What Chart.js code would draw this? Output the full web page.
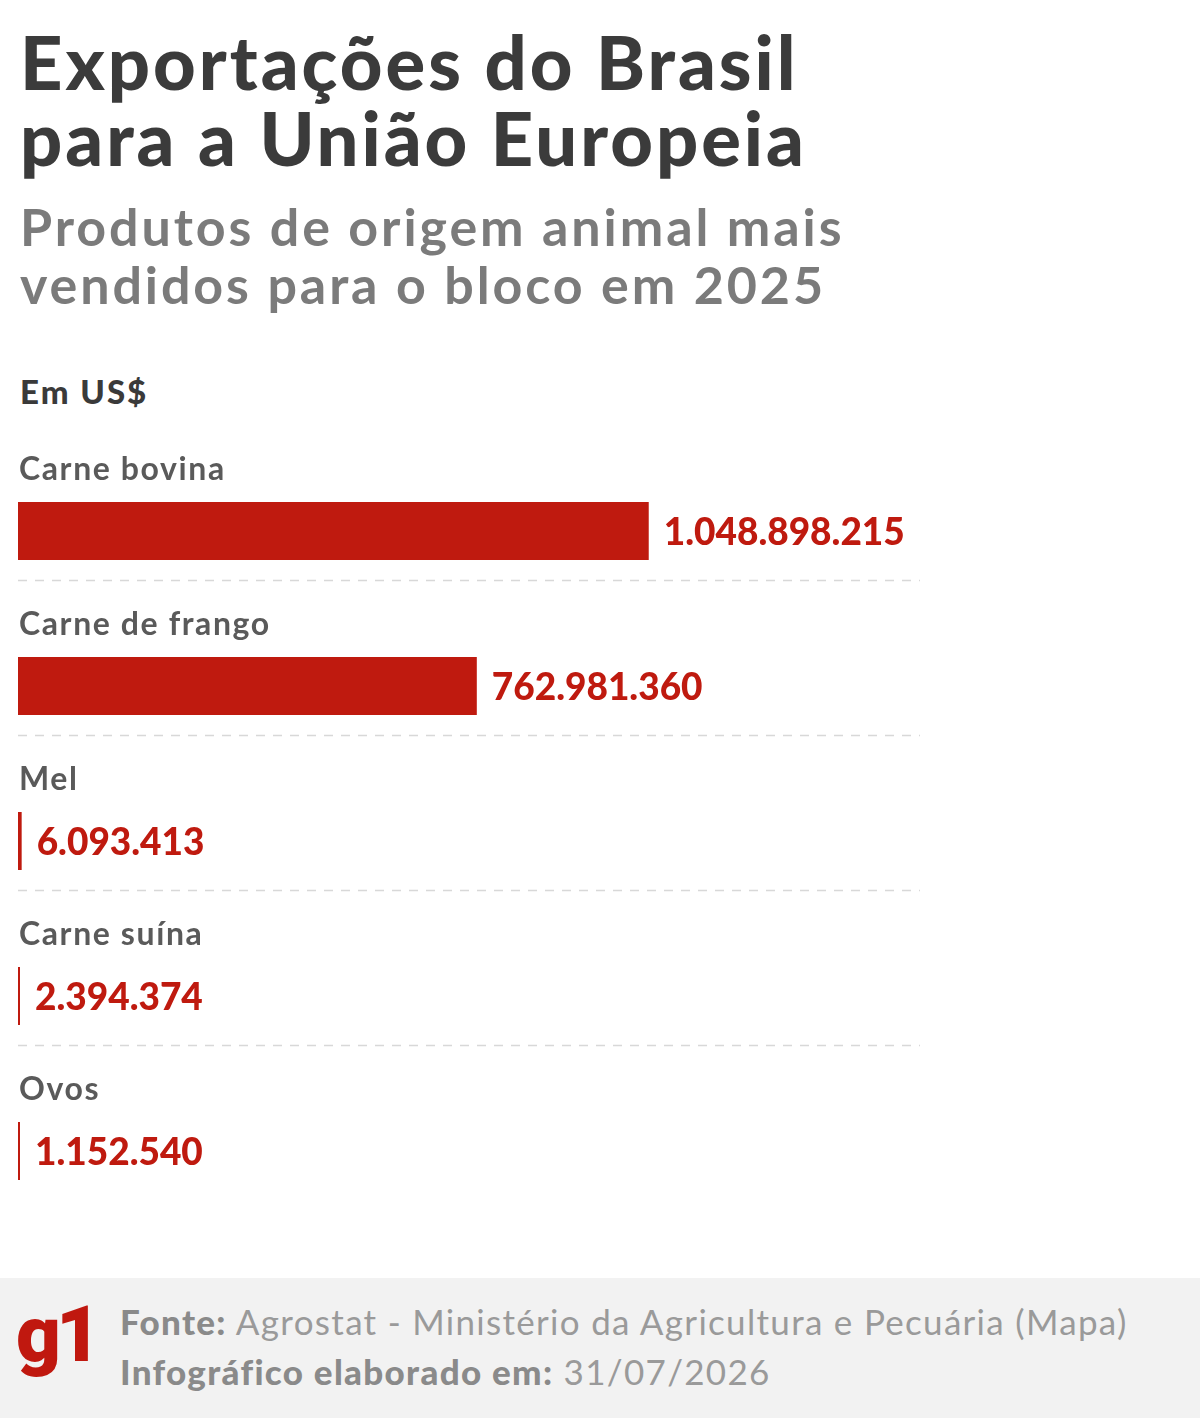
<!DOCTYPE html>
<html lang="pt-BR">
<head>
<meta charset="utf-8">
<script src="https://cdn.jsdelivr.net/npm/chart.js@4"></script>
<style>
  html, body { margin:0; padding:0; background:#fff; }
  body { width:1200px; height:1418px; position:relative; overflow:hidden; font-family:"Lato", sans-serif; }
  .t { position:absolute; left:20px; white-space:nowrap; }
  #title { top:24px; font-size:74px; font-weight:900; color:#3b3b3b; line-height:76px; letter-spacing:3px; }
  #sub { top:197px; font-size:52px; font-weight:700; color:#7b7b7b; line-height:58px; letter-spacing:2.9px; }
  #unit { top:371px; font-size:33px; font-weight:900; color:#3a3a3a; letter-spacing:2px; }
  #chartWrap { position:absolute; left:0; top:440px; width:1200px; height:800px; }
  #footer { position:absolute; left:0; top:1278px; width:1200px; height:140px; background:#f2f2f2; }
  #logo { position:absolute; left:16px; top:12px; font-family:"Roboto", sans-serif; font-size:78px; font-weight:900; color:#c0180f; letter-spacing:-5px; line-height:90px; }
  .f { position:absolute; left:120px; font-size:35px; color:#9a9a9a; white-space:nowrap; letter-spacing:1.3px; }
  .f b { color:#8a8a8a; font-weight:900; }
</style>
</head>
<body>
<div id="title" class="t">Exportações do Brasil<br>para a União Europeia</div>
<div id="sub" class="t">Produtos de origem animal mais<br>vendidos para o bloco em 2025</div>
<div id="unit" class="t">Em US$</div>
<div id="chartWrap"><canvas id="c" width="1200" height="800"></canvas></div>
<div id="footer">
  <div id="logo">g1</div>
  <div class="f" style="top:22px;"><b>Fonte:</b> Agrostat - Ministério da Agricultura e Pecuária (Mapa)</div>
  <div class="f" style="top:72px;"><b>Infográfico elaborado em:</b> 31/07/2026</div>
</div>
<script>
const categories = ["Carne bovina", "Carne de frango", "Mel", "Carne suína", "Ovos"];
const values = [1048898215, 762981360, 6093413, 2394374, 1152540];
const valueLabels = ["1.048.898.215", "762.981.360", "6.093.413", "2.394.374", "1.152.540"];

const RED = "#bf1a0f";

const overlay = {
  id: "overlay",
  afterDatasetsDraw(chart) {
    const ctx = chart.ctx;
    const y = chart.scales.y;
    const meta = chart.getDatasetMeta(0);
    const area = chart.chartArea;
    ctx.save();
    categories.forEach((cat, i) => {
      const cy = y.getPixelForValue(i);
      const period = i < categories.length - 1 ? y.getPixelForValue(i + 1) - cy : cy - y.getPixelForValue(i - 1);
      // category label
      ctx.fillStyle = "#5a5a5a";
      ctx.font = "700 32px Lato";
      ctx.letterSpacing = "1.6px";
      ctx.textBaseline = "alphabetic";
      ctx.textAlign = "left";
      ctx.fillText(cat, area.left + 1, cy - period * 0.33);
      // value label
      const bar = meta.data[i];
      ctx.fillStyle = RED;
      ctx.font = "900 37px Lato";
      ctx.letterSpacing = "0px";
      ctx.fillText(valueLabels[i], bar.x + 15, cy + period * 0.092);
      // separator
      if (i < categories.length - 1) {
        const sy = Math.round(cy + period * 0.316) + 0.5;
        ctx.strokeStyle = "#d8d8d8";
        ctx.lineWidth = 1.5;
        ctx.setLineDash([9, 8]);
        ctx.beginPath();
        ctx.moveTo(area.left, sy);
        ctx.lineTo(area.right, sy);
        ctx.stroke();
        ctx.setLineDash([]);
      }
    });
    ctx.restore();
  }
};

new Chart(document.getElementById("c"), {
  type: "bar",
  data: {
    labels: categories,
    datasets: [{
      data: values,
      backgroundColor: RED,
      borderWidth: 0,
      categoryPercentage: 1,
      barPercentage: 0.374,
      minBarLength: 2
    }]
  },
  options: {
    indexAxis: "y",
    responsive: false,
    animation: false,
    layout: { padding: { left: 18, right: 280, top: 13.5, bottom: 11.5 } },
    plugins: { legend: { display: false }, tooltip: { enabled: false } },
    scales: {
      x: { display: false, min: 0, max: 1500000000 },
      y: { display: false }
    }
  },
  plugins: [overlay]
});
</script>
</body>
</html>
